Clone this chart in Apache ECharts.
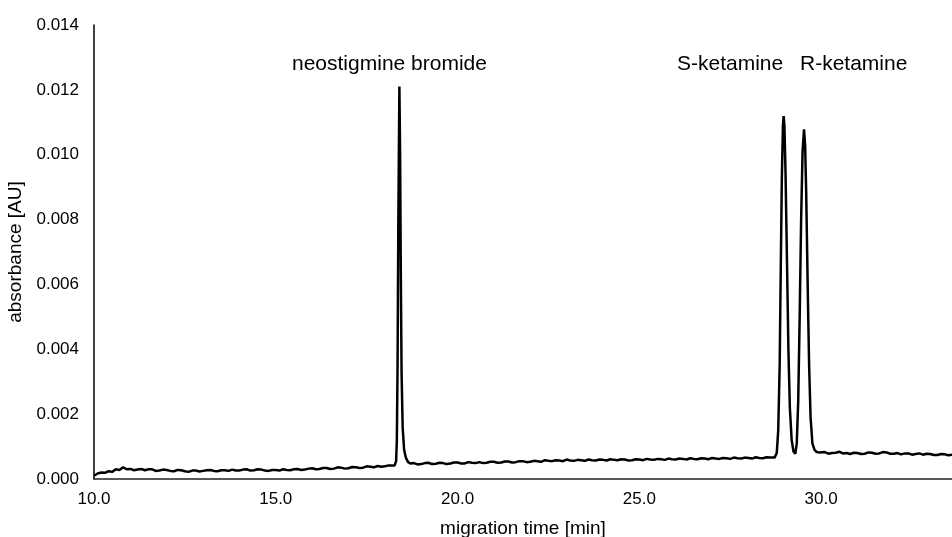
<!DOCTYPE html>
<html>
<head>
<meta charset="utf-8">
<script src="https://cdn.jsdelivr.net/npm/echarts@6/dist/echarts.min.js"></script>
<style>html,body{margin:0;padding:0;background:#fff}#c{width:952px;height:537px}</style>
</head>
<body>
<div id="c"></div>
<script>
// Baseline before neostigmine peak [time min, absorbance AU]
var baseline1 = [
  [10.0,0.00010],[10.1,0.00017],[10.2,0.00020],[10.3,0.00019],[10.4,0.00024],[10.5,0.00022],
  [10.6,0.00030],[10.7,0.00028],[10.8,0.00036],[10.9,0.00030],[11.0,0.00031],[11.1,0.00027],
  [11.2,0.00029],[11.3,0.00031],[11.4,0.00027],[11.5,0.00030],[11.6,0.00030],[11.7,0.00025],
  [11.8,0.00026],[11.9,0.00029],[12.0,0.00028],[12.1,0.00025],[12.2,0.00024],[12.3,0.00028],
  [12.4,0.00027],[12.5,0.00024],[12.6,0.00022],[12.7,0.00026],[12.8,0.00026],[12.9,0.00023],
  [13.0,0.00025],[13.1,0.00027],[13.2,0.00028],[13.3,0.00025],[13.4,0.00024],[13.5,0.00027],
  [13.6,0.00027],[13.7,0.00025],[13.8,0.00029],[13.9,0.00026],[14.0,0.00026],[14.1,0.00029],
  [14.2,0.00030],[14.3,0.00026],[14.4,0.00027],[14.5,0.00030],[14.6,0.00029],[14.7,0.00026],
  [14.8,0.00025],[14.9,0.00028],[15.0,0.00028],[15.1,0.00026],[15.2,0.00030],[15.3,0.00028],
  [15.4,0.00027],[15.5,0.00030],[15.6,0.00031],[15.7,0.00028],[15.8,0.00029],[15.9,0.00032],
  [16.0,0.00033],[16.1,0.00030],[16.2,0.00031],[16.3,0.00034],[16.4,0.00034],[16.5,0.00031],
  [16.6,0.00032],[16.7,0.00036],[16.8,0.00035],[16.9,0.00032],[17.0,0.00033],[17.1,0.00037],
  [17.2,0.00036],[17.3,0.00034],[17.4,0.00035],[17.5,0.00039],[17.6,0.00038],[17.7,0.00036],
  [17.8,0.00040],[17.9,0.00038],[18.0,0.00039],[18.1,0.00042],[18.2,0.00042]
];
// Neostigmine bromide peak
var peakNeostigmine = [
  [18.27,0.00042],[18.31,0.00055],[18.33,0.0012],[18.35,0.0035],[18.37,0.0078],[18.40,0.0121],
  [18.42,0.0100],[18.44,0.0062],[18.46,0.0033],[18.49,0.0016],[18.53,0.0009],[18.58,0.00065],
  [18.64,0.00052],[18.70,0.00048]
];
// Baseline between peaks
var baseline2 = [
  [18.8,0.00049],[18.9,0.00045],[19.0,0.00046],[19.1,0.00049],[19.2,0.00050],[19.3,0.00046],
  [19.4,0.00047],[19.5,0.00050],[19.6,0.00049],[19.7,0.00046],[19.8,0.00048],[19.9,0.00051],
  [20.0,0.00051],[20.1,0.00048],[20.2,0.00048],[20.3,0.00052],[20.4,0.00050],[20.5,0.00049],
  [20.6,0.00052],[20.7,0.00049],[20.8,0.00050],[20.9,0.00053],[21.0,0.00053],[21.1,0.00050],
  [21.2,0.00051],[21.3,0.00054],[21.4,0.00054],[21.5,0.00051],[21.6,0.00052],[21.7,0.00055],
  [21.8,0.00055],[21.9,0.00052],[22.0,0.00053],[22.1,0.00056],[22.2,0.00055],[22.3,0.00053],
  [22.4,0.00058],[22.5,0.00056],[22.6,0.00055],[22.7,0.00058],[22.8,0.00057],[22.9,0.00055],
  [23.0,0.00060],[23.1,0.00057],[23.2,0.00056],[23.3,0.00059],[23.4,0.00058],[23.5,0.00056],
  [23.6,0.00060],[23.7,0.00058],[23.8,0.00057],[23.9,0.00060],[24.0,0.00059],[24.1,0.00057],
  [24.2,0.00061],[24.3,0.00059],[24.4,0.00058],[24.5,0.00061],[24.6,0.00060],[24.7,0.00057],
  [24.8,0.00058],[24.9,0.00061],[25.0,0.00060],[25.1,0.00058],[25.2,0.00062],[25.3,0.00060],
  [25.4,0.00059],[25.5,0.00062],[25.6,0.00061],[25.7,0.00059],[25.8,0.00063],[25.9,0.00061],
  [26.0,0.00060],[26.1,0.00063],[26.2,0.00062],[26.3,0.00060],[26.4,0.00064],[26.5,0.00062],
  [26.6,0.00061],[26.7,0.00064],[26.8,0.00063],[26.9,0.00061],[27.0,0.00065],[27.1,0.00063],
  [27.2,0.00062],[27.3,0.00065],[27.4,0.00064],[27.5,0.00062],[27.6,0.00066],[27.7,0.00064],
  [27.8,0.00063],[27.9,0.00066],[28.0,0.00065],[28.1,0.00063],[28.2,0.00067],[28.3,0.00065],
  [28.4,0.00064],[28.5,0.00067],[28.6,0.00066]
];
// S- and R-ketamine peaks
var peakKetamine = [
  [28.72,0.00066],[28.78,0.0008],[28.82,0.0015],[28.86,0.0035],[28.89,0.0065],[28.92,0.0093],
  [28.95,0.0109],[28.97,0.01119],[28.99,0.0109],[29.02,0.0095],[29.06,0.0068],[29.10,0.0040],
  [29.14,0.0022],[29.19,0.0012],[29.24,0.00085],[29.29,0.00078],[29.33,0.0011],[29.37,0.0024],
  [29.41,0.0050],[29.45,0.0080],[29.49,0.0101],[29.53,0.01078],[29.56,0.0103],[29.59,0.0088],
  [29.63,0.0060],[29.67,0.0035],[29.71,0.0019],[29.76,0.0011],[29.82,0.0009],[29.88,0.00083]
];
// Baseline after ketamine peaks
var baseline3 = [
  [29.95,0.00082],[30.0,0.00080],[30.1,0.00083],[30.2,0.00078],[30.3,0.00080],[30.4,0.00081],
  [30.5,0.00084],[30.6,0.00079],[30.7,0.00080],[30.8,0.00077],[30.9,0.00081],[31.0,0.00080],
  [31.1,0.00077],[31.2,0.00078],[31.3,0.00082],[31.4,0.00081],[31.5,0.00078],[31.6,0.00079],
  [31.7,0.00083],[31.8,0.00082],[31.9,0.00078],[32.0,0.00078],[32.1,0.00080],[32.2,0.00076],
  [32.3,0.00079],[32.4,0.00079],[32.5,0.00075],[32.6,0.00077],[32.7,0.00079],[32.8,0.00075],
  [32.9,0.00078],[33.0,0.00077],[33.1,0.00074],[33.2,0.00074],[33.3,0.00077],[33.4,0.00076],
  [33.5,0.00073],[33.6,0.00075]
];
var peakLabels = ['neostigmine bromide', 'S-ketamine', 'R-ketamine'];
var xTitle = 'migration time [min]';
var yTitle = 'absorbance [AU]';

var trace = baseline1.concat(peakNeostigmine, baseline2, peakKetamine, baseline3);
var font = 'Liberation Sans, Arial, sans-serif';

var chart = echarts.init(document.getElementById('c'), null, {renderer: 'canvas'});
chart.setOption({
  backgroundColor: '#fff',
  animation: false,
  grid: {left: 94, right: 0, top: 25, bottom: 58, containLabel: false, outerBoundsMode: 'none'},
  xAxis: {
    type: 'value', min: 10, max: 33.6, interval: 5,
    name: xTitle, nameLocation: 'middle', nameGap: 40,
    nameTextStyle: {fontFamily: font, fontSize: 19, color: '#000'},
    axisLine: {lineStyle: {color: '#222', width: 1.5}},
    axisTick: {show: false},
    splitLine: {show: false},
    axisLabel: {fontFamily: font, fontSize: 17, color: '#000', margin: 12, showMaxLabel: false,
      formatter: function (v) { return v.toFixed(1); }}
  },
  yAxis: {
    type: 'value', min: 0, max: 0.014, interval: 0.002,
    name: yTitle, nameLocation: 'middle', nameGap: 63,
    nameTextStyle: {fontFamily: font, fontSize: 19, color: '#000'},
    axisLine: {show: true, lineStyle: {color: '#000', width: 1.5}},
    axisTick: {show: false},
    splitLine: {show: false},
    axisLabel: {fontFamily: font, fontSize: 17, color: '#000', margin: 15,
      formatter: function (v) { return v.toFixed(3); }}
  },
  series: [{
    type: 'line', data: trace, showSymbol: false, symbol: 'none',
    lineStyle: {color: '#000', width: 2.5}
  }],
  graphic: [
    {type: 'text', left: 292, top: 54, style: {text: peakLabels[0], font: '21px ' + font, fill: '#000'}},
    {type: 'text', left: 677, top: 54, style: {text: peakLabels[1], font: '21px ' + font, fill: '#000'}},
    {type: 'text', left: 800, top: 54, style: {text: peakLabels[2], font: '21px ' + font, fill: '#000'}}
  ]
});
</script>
</body>
</html>
